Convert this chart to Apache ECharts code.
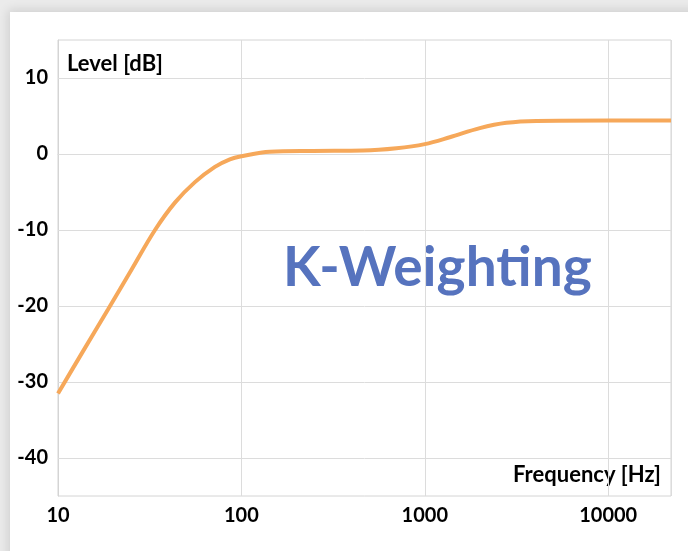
<!DOCTYPE html>
<html>
<head>
<meta charset="utf-8">
<script src="https://cdn.jsdelivr.net/npm/echarts@6/dist/echarts.min.js"></script>
<style>
  html, body { margin: 0; padding: 0; background: #ebebeb; }
  #card { position: absolute; left: 10px; top: 12px; width: 700px; height: 560px; background: #fff;
          box-shadow: 0 0 10px 2px rgba(0,0,0,0.12); }
  #chart { position: absolute; left: 0; top: 0; width: 688px; height: 551px; }
</style>
</head>
<body>
<div id="card"></div>
<div id="chart"></div>
<script>
// Data
const frequencyHz = [10, 13.5, 18.8, 25.2, 33.8, 43.4, 55.8, 71.7, 86.5, 100, 143, 246, 461, 701, 1000, 1368, 1995, 2786, 4064, 10000, 22000];
const levelDb     = [-31.5, -26.2, -20.4, -15.2, -10, -6.4, -3.7, -1.7, -0.7, -0.3, 0.3, 0.4, 0.45, 0.75, 1.3, 2.2, 3.4, 4.1, 4.35, 4.4, 4.4];
const yGridValues = [-40, -30, -20, -10, 0, 10];
const xTickLabels = [10, 100, 1000, 10000];
const titleText = 'K-Weighting';
const yAxisTitle = 'Level [dB]';
const xAxisTitle = 'Frequency [Hz]';

const chart = echarts.init(document.getElementById('chart'));
const font = 'Lato, "Open Sans", sans-serif';

chart.setOption({
  backgroundColor: 'transparent',
  animation: false,
  grid: { left: 58, right: 17, top: 40, bottom: 55, show: true, borderColor: '#d4d4d4', borderWidth: 1, backgroundColor: 'transparent' },
  xAxis: {
    type: 'log', logBase: 10, min: 10, max: 22000,
    axisLine: { show: true, lineStyle: { color: '#d4d4d4' } },
    axisTick: { show: false },
    splitLine: { show: true, lineStyle: { color: '#dcdcdc', width: 1 } },
    axisLabel: {
      margin: 10, color: '#000', fontFamily: font, fontWeight: 'bold', fontSize: 20,
      formatter: v => (xTickLabels.indexOf(Math.round(v)) >= 0 ? String(Math.round(v)) : '')
    }
  },
  yAxis: {
    type: 'value', min: -45, max: 15, interval: 5,
    axisLine: { show: true, lineStyle: { color: '#d4d4d4' } },
    axisTick: { show: false },
    splitLine: { show: false },
    axisLabel: {
      margin: 10, color: '#000', fontFamily: font, fontWeight: 'bold', fontSize: 20,
      formatter: v => (yGridValues.indexOf(v) >= 0 ? String(v) : '')
    }
  },
  series: [{
    type: 'line',
    data: frequencyHz.map((f, i) => [f, levelDb[i]]),
    smooth: 0.35,
    showSymbol: false,
    lineStyle: { color: '#F6A85A', width: 4 },
    z: 5,
    markLine: {
      silent: true, symbol: 'none', label: { show: false },
      lineStyle: { color: '#dcdcdc', type: 'solid', width: 1 },
      data: yGridValues.map(v => ({ yAxis: v })),
      z: 1
    }
  }],
  graphic: [
    { type: 'text', left: 67, top: 53, style: { text: yAxisTitle, fill: '#000', font: 'bold 22px ' + font } },
    { type: 'text', right: 27, top: 464, style: { text: xAxisTitle, fill: '#000', font: 'bold 22px ' + font } },
    { type: 'text', left: 283, top: 241, style: { text: titleText, fill: '#5673BE', font: 'bold 55px ' + font } }
  ]
});
</script>
</body>
</html>
